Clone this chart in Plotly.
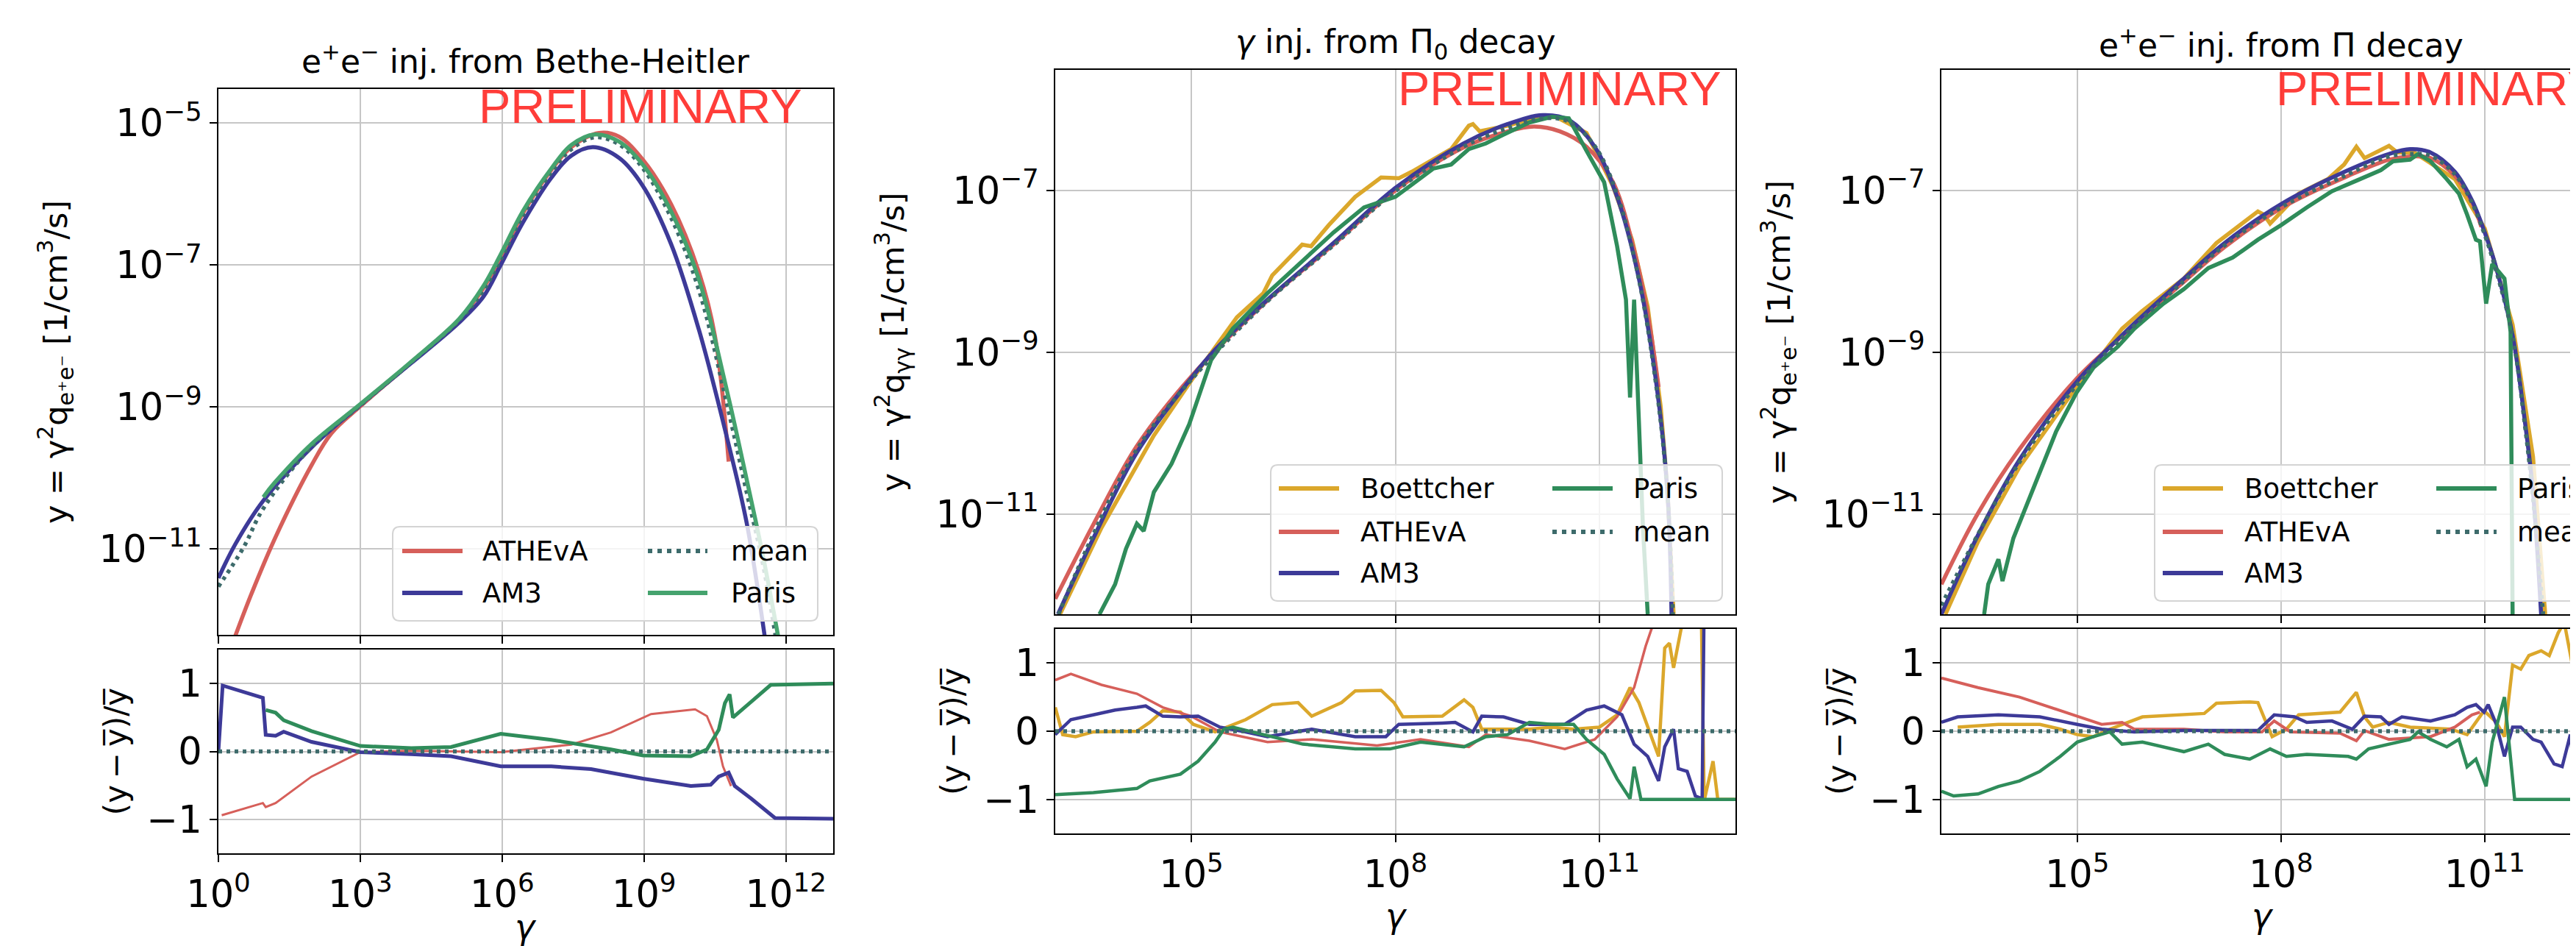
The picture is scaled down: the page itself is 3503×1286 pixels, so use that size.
import plotly.graph_objects as go

W, H = 3503, 1286

# ---------------- colours ----------------
C_BOET = "#dba72b"
C_ATH = "#d65f5a"
C_AM3 = "#3d3a98"
C_PARIS = "#2f8c5a"
C_PARIS1 = "#45a36e"
C_MEAN = "#3d6b6b"

# ---------------- Panel 1 : e+e- from Bethe-Heitler (log10 gamma, log10 y) ----------------
bh_ath_lg = [0.36, 0.70, 1.21, 1.97, 2.39, 3.0, 4.08, 5.09, 5.6, 5.97, 6.44, 7.04, 7.46, 8.05, 8.47, 8.98, 9.57, 10.16, 10.5, 10.79]
bh_ath_ly = [-12.22, -11.63, -10.83, -9.82, -9.37, -8.99, -8.37, -7.77, -7.33, -6.90, -6.27, -5.66, -5.34, -5.14, -5.19, -5.52, -6.14, -7.10, -8.0, -9.77]
bh_am3_lg = [0.0, 0.36, 0.95, 1.97, 3.0, 4.08, 5.09, 5.6, 5.97, 6.44, 7.04, 7.46, 7.92, 8.47, 8.98, 9.57, 10.16, 10.75, 11.17, 11.55]
bh_am3_ly = [-11.41, -10.93, -10.32, -9.57, -8.97, -8.38, -7.81, -7.45, -7.0, -6.40, -5.77, -5.46, -5.34, -5.49, -5.89, -6.70, -7.91, -9.42, -10.63, -12.22]
bh_paris_lg = [0.95, 1.05, 1.21, 1.97, 3.0, 4.08, 5.09, 5.6, 5.97, 6.44, 7.04, 7.46, 7.96, 8.47, 8.98, 9.57, 10.16, 10.75, 11.17, 11.51, 11.85]
bh_paris_ly = [-10.27, -10.18, -10.05, -9.52, -8.96, -8.36, -7.76, -7.30, -6.85, -6.24, -5.64, -5.31, -5.16, -5.26, -5.59, -6.24, -7.20, -8.76, -10.02, -11.08, -12.28]
bh_mean_lg = [0.0, 0.53, 0.95, 1.97, 3.0, 4.08, 5.09, 5.6, 5.97, 6.44, 7.04, 7.46, 7.96, 8.47, 8.98, 9.57, 10.16, 10.75, 11.17, 11.51, 11.78]
bh_mean_ly = [-11.53, -10.98, -10.43, -9.56, -8.98, -8.37, -7.78, -7.36, -6.92, -6.30, -5.69, -5.37, -5.20, -5.30, -5.64, -6.33, -7.35, -8.95, -10.2, -11.2, -12.22]

bh_res_am3_lg = [0.0, 0.09, 0.94, 1.0, 1.21, 1.38, 1.97, 3.0, 4.08, 4.92, 5.97, 7.04, 7.88, 8.98, 9.99, 10.41, 10.58, 10.79, 10.92, 11.26, 11.77, 13.0]
bh_res_am3 = [0.0, 0.97, 0.79, 0.245, 0.23, 0.29, 0.14, -0.01, -0.04, -0.07, -0.22, -0.22, -0.26, -0.40, -0.51, -0.49, -0.37, -0.31, -0.51, -0.69, -0.98, -0.99]
bh_res_paris_lg = [1.0, 1.21, 1.38, 1.97, 3.0, 4.08, 4.92, 5.97, 7.04, 8.3, 8.98, 9.99, 10.33, 10.58, 10.71, 10.81, 10.88, 11.68, 13.0]
bh_res_paris = [0.61, 0.57, 0.46, 0.30, 0.08, 0.05, 0.065, 0.26, 0.17, 0.03, -0.06, -0.07, 0.03, 0.32, 0.71, 0.84, 0.50, 0.98, 1.0]
bh_res_ath_lg = [0.07, 0.94, 1.0, 1.21, 1.97, 3.0, 4.08, 5.97, 7.46, 8.3, 9.15, 10.08, 10.33, 10.54, 10.67, 10.84]
bh_res_ath = [-0.94, -0.76, -0.82, -0.76, -0.37, -0.01, 0.01, -0.01, 0.10, 0.28, 0.55, 0.62, 0.52, 0.17, -0.22, -0.51]
bh_res_mean_lg = [0.0, 13.0]
bh_res_mean = [0.0, 0.0]

# ---------------- Panel 2 : gamma from Pi0 decay ----------------
p0_boet_lg = [3.07, 3.68, 4.45, 5.0, 5.67, 6.06, 6.19, 6.63, 6.76, 7.02, 7.41, 7.79, 8.05, 8.24, 8.82, 9.08, 9.14, 9.24, 9.65, 10.04, 10.36, 10.81, 11.2, 11.48, 11.71, 11.9, 12.0, 12.09]
p0_boet_ly = [-12.24, -11.17, -10.03, -9.35, -8.57, -8.27, -8.05, -7.67, -7.69, -7.43, -7.08, -6.84, -6.85, -6.77, -6.49, -6.20, -6.18, -6.27, -6.20, -6.11, -6.09, -6.29, -6.95, -7.61, -8.44, -9.67, -10.7, -12.24]
p0_ath_lg = [3.0, 3.56, 4.2, 5.0, 6.12, 7.09, 8.0, 9.0, 9.65, 10.04, 10.42, 10.81, 11.2, 11.51, 11.71, 11.87]
p0_ath_ly = [-12.05, -11.13, -10.16, -9.30, -8.36, -7.67, -7.0, -6.47, -6.27, -6.21, -6.27, -6.46, -6.90, -7.74, -8.53, -9.43]
p0_am3_lg = [3.04, 3.56, 4.2, 5.0, 5.35, 6.12, 7.09, 8.0, 9.0, 9.65, 10.17, 10.55, 10.93, 11.26, 11.58, 11.84, 12.0, 12.06]
p0_am3_ly = [-12.24, -11.30, -10.24, -9.32, -8.97, -8.35, -7.65, -6.97, -6.42, -6.18, -6.07, -6.13, -6.46, -7.08, -8.09, -9.41, -10.73, -12.24]
p0_paris_lg = [3.65, 3.88, 4.04, 4.2, 4.3, 4.45, 4.71, 4.97, 5.29, 5.61, 6.12, 6.64, 7.09, 7.54, 8.0, 8.56, 8.82, 9.08, 9.33, 9.59, 9.97, 10.3, 10.55, 10.81, 11.07, 11.26, 11.39, 11.45, 11.51, 11.58, 11.64, 11.71]
p0_paris_ly = [-12.24, -11.87, -11.43, -11.12, -11.21, -10.73, -10.38, -9.89, -9.10, -8.71, -8.27, -7.87, -7.52, -7.21, -7.08, -6.73, -6.68, -6.49, -6.42, -6.31, -6.16, -6.09, -6.11, -6.51, -6.90, -7.69, -8.35, -9.56, -8.35, -9.85, -11.17, -12.24]
p0_mean_lg = [3.05, 3.56, 4.2, 5.0, 6.12, 7.09, 8.0, 9.0, 9.65, 10.17, 10.55, 10.93, 11.26, 11.58, 11.84, 12.0, 12.08]
p0_mean_ly = [-12.24, -11.25, -10.2, -9.34, -8.37, -7.68, -7.01, -6.46, -6.23, -6.11, -6.15, -6.45, -7.05, -8.1, -9.45, -10.75, -12.24]

p0_res_ath_lg = [3.0, 3.23, 3.68, 4.2, 4.58, 5.0, 5.42, 6.12, 6.77, 7.73, 8.37, 9.08, 9.33, 9.97, 10.49, 10.93, 11.26, 11.51, 11.68, 11.8, 11.87]
p0_res_ath = [0.75, 0.84, 0.68, 0.55, 0.35, 0.22, -0.01, -0.16, -0.12, -0.21, -0.12, -0.23, -0.05, -0.14, -0.26, -0.12, 0.21, 0.64, 1.25, 1.6, 1.9]
p0_res_boet_lg = [3.0, 3.11, 3.3, 3.56, 4.2, 4.39, 4.58, 4.84, 5.03, 5.35, 5.8, 6.19, 6.57, 6.77, 7.21, 7.41, 7.79, 7.98, 8.11, 8.69, 9.01, 9.14, 9.27, 9.97, 10.3, 10.62, 11.0, 11.26, 11.45, 11.58, 11.87, 11.96, 12.03, 12.09, 12.22, 12.5, 12.54, 12.67, 12.74, 13.0]
p0_res_boet = [0.35, -0.05, -0.08, -0.01, 0.0, 0.13, 0.30, 0.28, 0.1, -0.01, 0.17, 0.39, 0.42, 0.22, 0.42, 0.59, 0.60, 0.42, 0.21, 0.22, 0.46, 0.35, 0.03, 0.03, 0.06, 0.03, 0.06, 0.24, 0.64, 0.42, -0.37, 1.22, 1.29, 0.93, 1.6, 1.6, -1.02, -0.44, -1.0, -1.0]
p0_res_am3_lg = [3.0, 3.23, 3.56, 3.88, 4.2, 4.33, 4.58, 4.84, 5.1, 5.42, 5.8, 6.12, 6.77, 7.41, 7.86, 8.05, 8.69, 8.88, 9.14, 9.27, 9.59, 9.97, 10.49, 10.81, 11.07, 11.33, 11.51, 11.71, 11.87, 11.96, 12.09, 12.16, 12.29, 12.41, 12.51, 12.54, 12.7]
p0_res_am3 = [-0.05, 0.17, 0.24, 0.31, 0.35, 0.37, 0.22, 0.21, 0.22, 0.06, -0.01, -0.08, 0.03, -0.08, -0.08, 0.1, 0.12, 0.13, -0.01, 0.22, 0.21, 0.1, 0.1, 0.31, 0.37, 0.24, -0.19, -0.37, -0.73, -0.23, 0.03, -0.55, -0.59, -0.95, -0.99, 2.0, 2.0]
p0_res_paris_lg = [3.0, 3.56, 4.2, 4.39, 4.84, 5.1, 5.35, 5.48, 5.61, 6.05, 6.64, 7.41, 7.92, 8.37, 8.69, 9.01, 9.33, 9.65, 9.97, 10.3, 10.62, 10.81, 11.07, 11.26, 11.45, 11.51, 11.61, 13.0]
p0_res_paris = [-0.93, -0.9, -0.84, -0.73, -0.63, -0.44, -0.16, 0.03, 0.06, -0.05, -0.19, -0.26, -0.26, -0.16, -0.19, -0.23, -0.08, -0.05, 0.13, 0.1, 0.1, -0.12, -0.34, -0.70, -0.99, -0.52, -1.0, -1.0]
p0_res_mean_lg = [3.0, 13.0]
p0_res_mean = [0.0, 0.0]

# ---------------- Panel 3 : e+e- from Pi decay ----------------
pc_boet_lg = [3.06, 3.54, 4.15, 4.93, 5.66, 5.96, 6.57, 7.05, 7.66, 7.75, 7.84, 8.26, 8.69, 8.93, 9.11, 9.23, 9.35, 9.59, 9.71, 9.96, 10.56, 11.0, 11.41, 11.71, 11.89]
pc_boet_ly = [-12.24, -11.34, -10.42, -9.50, -8.71, -8.49, -8.09, -7.65, -7.26, -7.30, -7.41, -7.04, -6.86, -6.68, -6.46, -6.60, -6.55, -6.45, -6.53, -6.53, -6.86, -7.47, -8.66, -10.29, -12.24]
pc_ath_lg = [3.0, 3.54, 4.15, 5.0, 5.66, 6.57, 7.17, 8.0, 8.99, 9.59, 9.9, 10.2, 10.56, 10.81, 10.95]
pc_ath_ly = [-11.87, -10.99, -10.2, -9.32, -8.8, -8.13, -7.70, -7.22, -6.82, -6.62, -6.58, -6.60, -6.82, -7.14, -7.45]
pc_am3_lg = [3.0, 3.54, 4.15, 5.0, 5.66, 6.57, 7.17, 8.0, 8.99, 9.59, 9.9, 10.2, 10.56, 10.81, 11.0, 11.17, 11.41, 11.59, 11.71, 11.83]
pc_am3_ly = [-12.24, -11.26, -10.33, -9.36, -8.79, -8.09, -7.65, -7.17, -6.75, -6.55, -6.49, -6.53, -6.77, -7.12, -7.52, -7.96, -8.79, -9.85, -10.73, -12.24]
pc_paris_lg = [3.63, 3.69, 3.84, 3.9, 4.06, 4.27, 4.45, 4.69, 4.99, 5.24, 5.6, 5.84, 6.27, 6.57, 6.93, 7.29, 7.66, 8.0, 8.38, 8.75, 9.11, 9.47, 9.65, 9.9, 10.02, 10.2, 10.44, 10.62, 10.74, 10.87, 10.93, 11.02, 11.11, 11.29, 11.38, 11.41]
pc_paris_ly = [-12.24, -11.87, -11.56, -11.83, -11.30, -10.86, -10.46, -9.98, -9.50, -9.19, -8.93, -8.71, -8.40, -8.22, -7.96, -7.83, -7.61, -7.43, -7.21, -7.01, -6.88, -6.75, -6.64, -6.62, -6.55, -6.64, -6.86, -7.04, -7.30, -7.61, -7.63, -8.40, -7.91, -8.09, -8.75, -12.24]
pc_mean_lg = [3.0, 3.54, 4.15, 5.0, 5.66, 6.57, 7.17, 8.0, 8.99, 9.59, 9.96, 10.2, 10.56, 10.81, 11.0, 11.17, 11.41, 11.59, 11.71, 11.86]
pc_mean_ly = [-12.13, -11.25, -10.36, -9.40, -8.82, -8.12, -7.68, -7.21, -6.80, -6.58, -6.55, -6.57, -6.80, -7.15, -7.55, -8.0, -8.8, -9.9, -10.8, -12.24]

pc_res_ath_lg = [3.0, 3.54, 4.15, 4.75, 5.0, 5.36, 5.66, 5.84, 6.57, 7.17, 7.72, 7.9, 8.14, 8.87, 9.11, 9.23, 9.59, 10.2, 10.56, 10.81, 10.93]
pc_res_ath = [0.78, 0.64, 0.50, 0.31, 0.22, 0.10, 0.13, 0.03, 0.03, -0.01, -0.01, 0.15, -0.01, -0.03, -0.14, 0.01, -0.12, -0.08, 0.06, 0.24, 0.28]
pc_res_boet_lg = [3.24, 3.84, 4.45, 4.75, 5.0, 5.24, 5.48, 5.66, 5.96, 6.87, 7.05, 7.54, 7.66, 7.78, 7.87, 8.08, 8.26, 8.87, 9.11, 9.23, 9.35, 9.59, 9.9, 10.5, 10.74, 10.99, 11.17, 11.29, 11.41, 11.53, 11.65, 11.83, 11.95, 12.08, 12.17, 12.29, 12.38, 12.43]
pc_res_boet = [0.06, 0.10, 0.10, 0.03, -0.05, -0.08, 0.03, 0.10, 0.21, 0.26, 0.41, 0.43, 0.42, 0.13, -0.08, 0.03, 0.24, 0.28, 0.57, 0.21, 0.06, 0.13, 0.06, 0.03, -0.05, 0.30, 0.13, -0.08, 0.97, 0.91, 1.11, 1.18, 1.11, 1.44, 1.6, 0.97, 1.6, 1.6]
pc_res_am3_lg = [3.0, 3.24, 3.84, 4.45, 5.0, 5.36, 5.84, 6.57, 7.66, 7.9, 8.2, 8.38, 8.75, 9.05, 9.23, 9.47, 9.59, 9.78, 10.2, 10.56, 10.74, 10.87, 10.99, 11.05, 11.17, 11.29, 11.41, 11.53, 11.71, 11.83, 12.02, 12.14, 12.26, 12.35, 12.40, 12.43]
pc_res_am3 = [0.13, 0.21, 0.24, 0.21, 0.10, 0.03, -0.01, 0.01, 0.01, 0.24, 0.21, 0.13, 0.15, 0.03, 0.22, 0.21, 0.10, 0.21, 0.15, 0.24, 0.35, 0.39, 0.28, 0.39, 0.10, -0.37, 0.06, 0.06, -0.12, -0.16, -0.48, -0.52, -0.05, -0.92, 1.6, 1.6]
pc_res_paris_lg = [3.0, 3.18, 3.54, 3.84, 4.15, 4.45, 4.75, 5.0, 5.24, 5.48, 5.66, 5.96, 6.57, 6.93, 7.17, 7.54, 7.84, 8.08, 8.38, 8.99, 9.11, 9.29, 9.59, 9.9, 10.02, 10.2, 10.44, 10.62, 10.74, 10.87, 11.02, 11.11, 11.29, 11.44, 12.43]
pc_res_paris = [-0.88, -0.95, -0.92, -0.81, -0.73, -0.59, -0.37, -0.16, -0.08, -0.01, -0.19, -0.16, -0.30, -0.19, -0.34, -0.41, -0.26, -0.37, -0.34, -0.37, -0.41, -0.26, -0.19, -0.12, -0.01, -0.12, -0.23, -0.12, -0.52, -0.41, -0.81, -0.16, 0.50, -1.0, -1.0]
pc_res_mean_lg = [3.0, 13.0]
pc_res_mean = [0.0, 0.0]

# ---------------- tick labels ----------------
x_ticks_p1 = [0, 3, 6, 9, 12]
x_ticks_p23 = [5, 8, 11]
y_ticks_p1 = [-11, -9, -7, -5]
y_ticks_p23 = [-11, -9, -7]
res_ticks = [-1, 0, 1]
res_ticktext = ["\u22121", "0", "1"]

FONT = "DejaVu Sans"
fig = go.Figure()


def add(xa, ya, lg, vals, color, width, dash=None, logy=True, shape="linear"):
    fig.add_trace(go.Scatter(
        x=[10 ** v for v in lg],
        y=[10 ** v for v in vals] if logy else vals,
        xaxis=xa, yaxis=ya, mode="lines",
        line=dict(color=color, width=width, dash=dash, shape=shape),
        showlegend=False, hoverinfo="skip"))


DOT = "5px,6px"
LW = 5.5
RW = 4.5
# panel 1
add("x", "y", bh_ath_lg, bh_ath_ly, C_ATH, LW, shape="spline")
add("x", "y", bh_am3_lg, bh_am3_ly, C_AM3, LW, shape="spline")
add("x", "y", bh_mean_lg, bh_mean_ly, C_MEAN, 5.5, dash=DOT, shape="spline")
add("x", "y", bh_paris_lg, bh_paris_ly, C_PARIS1, LW, shape="spline")
add("x2", "y2", bh_res_ath_lg, bh_res_ath, C_ATH, 3, logy=False)
add("x2", "y2", bh_res_am3_lg, bh_res_am3, C_AM3, 5, logy=False)
add("x2", "y2", bh_res_mean_lg, bh_res_mean, C_MEAN, 5.5, dash=DOT, logy=False)
add("x2", "y2", bh_res_paris_lg, bh_res_paris, C_PARIS, 5, logy=False)

# panel 2
add("x3", "y3", p0_boet_lg, p0_boet_ly, C_BOET, LW)
add("x3", "y3", p0_ath_lg, p0_ath_ly, C_ATH, LW, shape="spline")
add("x3", "y3", p0_am3_lg, p0_am3_ly, C_AM3, LW, shape="spline")
add("x3", "y3", p0_paris_lg, p0_paris_ly, C_PARIS, LW)
add("x3", "y3", p0_mean_lg, p0_mean_ly, C_MEAN, 5.5, dash=DOT, shape="spline")
add("x4", "y4", p0_res_boet_lg, p0_res_boet, C_BOET, RW, logy=False)
add("x4", "y4", p0_res_ath_lg, p0_res_ath, C_ATH, 3.5, logy=False)
add("x4", "y4", p0_res_am3_lg, p0_res_am3, C_AM3, RW, logy=False)
add("x4", "y4", p0_res_paris_lg, p0_res_paris, C_PARIS, RW, logy=False)
add("x4", "y4", p0_res_mean_lg, p0_res_mean, C_MEAN, 5.5, dash=DOT, logy=False)

# panel 3
add("x5", "y5", pc_boet_lg, pc_boet_ly, C_BOET, LW)
add("x5", "y5", pc_ath_lg, pc_ath_ly, C_ATH, LW, shape="spline")
add("x5", "y5", pc_am3_lg, pc_am3_ly, C_AM3, LW, shape="spline")
add("x5", "y5", pc_paris_lg, pc_paris_ly, C_PARIS, LW)
add("x5", "y5", pc_mean_lg, pc_mean_ly, C_MEAN, 5.5, dash=DOT, shape="spline")
add("x6", "y6", pc_res_boet_lg, pc_res_boet, C_BOET, RW, logy=False)
add("x6", "y6", pc_res_ath_lg, pc_res_ath, C_ATH, 4, logy=False)
add("x6", "y6", pc_res_am3_lg, pc_res_am3, C_AM3, RW, logy=False)
add("x6", "y6", pc_res_paris_lg, pc_res_paris, C_PARIS, RW, logy=False)
add("x6", "y6", pc_res_mean_lg, pc_res_mean, C_MEAN, 5.5, dash=DOT, logy=False)

# ---------------- axes ----------------
def px_x(p):
    return p / W


def px_y(p):
    return 1 - p / H


P1X = [px_x(289), px_x(1125)]
P2X = [px_x(1427), px_x(2352)]
P3X = [px_x(2632), 1.0]
P1M = [px_y(855), px_y(113)]
P1R = [px_y(1152), px_y(875)]
P23M = [px_y(827), px_y(87)]
P23R = [px_y(1125), px_y(847)]

GRID = "#c6c6c6"
TICK_SIZE = 51


def base(mirror=True):
    return dict(showgrid=True, gridcolor=GRID, gridwidth=2, showline=True, linecolor="black",
                linewidth=2, mirror=mirror, ticks="outside", ticklen=10, tickwidth=2,
                tickcolor="black", zeroline=False, automargin=False,
                tickfont=dict(family=FONT, size=TICK_SIZE, color="black"))


def pow_text(vals):
    return ["10<sup>%s</sup>" % (str(v).replace("-", "\u2212")) for v in vals]


def xax(dom, rng, anchor, ticks, labels, mirror=True, title=True):
    d = base(mirror)
    d.update(domain=dom, type="log", range=rng, anchor=anchor,
             tickvals=[10 ** t for t in ticks], ticktext=pow_text(ticks), showticklabels=labels)
    if labels and title:
        d.update(title=dict(text="<i>γ</i>", font=dict(family=FONT, size=46, color="black"), standoff=10))
    return d


YT_MAIN1 = "y = γ<sup>2</sup>q<sub>e\u207ae\u207b</sub> [1/cm<sup>3</sup>/s]"
YT_MAIN2 = "y = γ<sup>2</sup>q<sub>γγ</sub> [1/cm<sup>3</sup>/s]"
YT_RES = "(y\u2009\u2212\u2009y\u0305)/y\u0305"


def ymain(dom, rng, anchor, ticks, title, mirror=True):
    d = base(mirror)
    d.update(domain=dom, type="log", range=rng, anchor=anchor,
             tickvals=[10 ** t for t in ticks], ticktext=pow_text(ticks),
             title=dict(text=title, font=dict(family=FONT, size=43, color="black"), standoff=30))
    return d


def yres(dom, anchor, mirror=True):
    d = base(mirror)
    d.update(domain=dom, range=[-1.5, 1.5], anchor=anchor, tickvals=res_ticks, ticktext=res_ticktext,
             title=dict(text=YT_RES, font=dict(family=FONT, size=42, color="black"), standoff=14))
    return d


fig.update_layout(
    xaxis=xax(P1X, [0, 13], "y", x_ticks_p1, False),
    yaxis=ymain(P1M, [-12.21, -4.52], "x", y_ticks_p1, YT_MAIN1),
    xaxis2=xax(P1X, [0, 13], "y2", x_ticks_p1, True, title=False),
    yaxis2=yres(P1R, "x2"),
    xaxis3=xax(P2X, [3, 13], "y3", x_ticks_p23, False),
    yaxis3=ymain(P23M, [-12.24, -5.51], "x3", y_ticks_p23, YT_MAIN2),
    xaxis4=xax(P2X, [3, 13], "y4", x_ticks_p23, True),
    yaxis4=yres(P23R, "x4"),
    xaxis5=xax(P3X, [3, 12.43], "y5", x_ticks_p23, False),
    yaxis5=ymain(P23M, [-12.24, -5.51], "x5", y_ticks_p23, YT_MAIN1, mirror=False),
    xaxis6=xax(P3X, [3, 12.43], "y6", x_ticks_p23, True),
    yaxis6=yres(P23R, "x6", mirror=False),
)

shapes = []
annotations = []

# x-axis label of the first panel (placed explicitly so it stays inside the canvas)
annotations.append(dict(text="<i>γ</i>", x=px_x(707), y=px_y(1252), xref="paper", yref="paper",
                        xanchor="center", yanchor="middle", showarrow=False,
                        font=dict(family=FONT, size=46, color="black")))

# ---------------- titles ----------------
TITLE_FONT = dict(family=FONT, size=44, color="black")
for txt, cx, cy in [("e<sup>+</sup>e<sup>\u2212</sup> inj. from Bethe-Heitler", 707, 72),
                    ("<i>γ</i> inj. from Π<sub>0</sub> decay", 1890, 52),
                    ("e<sup>+</sup>e<sup>\u2212</sup> inj. from Π decay", 3094, 50)]:
    annotations.append(dict(text=txt, x=px_x(cx), y=px_y(cy), xref="paper", yref="paper",
                            xanchor="center", yanchor="middle", showarrow=False, font=TITLE_FONT))

# ---------------- PRELIMINARY ----------------
for lx, cy in [(641, 137), (1891, 113), (3085, 113)]:
    annotations.append(dict(text="PRELIMINARY", x=px_x(lx), y=px_y(cy), xref="paper", yref="paper",
                            xanchor="left", yanchor="middle", showarrow=False,
                            font=dict(family="Liberation Sans", size=65, color="rgba(255,40,35,0.9)")))

# ---------------- legends (drawn as boxes + sample lines + text) ----------------
LEG_FONT = dict(family=FONT, size=37, color="black")


def rounded_box(x0, y0, x1, y1, r=10):
    X = lambda p: px_x(p)
    Y = lambda p: px_y(p)
    path = (f"M {X(x0 + r)},{Y(y0)} L {X(x1 - r)},{Y(y0)} Q {X(x1)},{Y(y0)} {X(x1)},{Y(y0 + r)} "
            f"L {X(x1)},{Y(y1 - r)} Q {X(x1)},{Y(y1)} {X(x1 - r)},{Y(y1)} "
            f"L {X(x0 + r)},{Y(y1)} Q {X(x0)},{Y(y1)} {X(x0)},{Y(y1 - r)} "
            f"L {X(x0)},{Y(y0 + r)} Q {X(x0)},{Y(y0)} {X(x0 + r)},{Y(y0)} Z")
    shapes.append(dict(type="path", path=path, xref="paper", yref="paper", layer="above",
                       fillcolor="rgba(255,255,255,0.8)", line=dict(color="#d4d4d4", width=2)))


def legend(box, entries):
    rounded_box(*box)
    for name, color, dash, lx0, lx1, ly, tx in entries:
        shapes.append(dict(type="line", x0=px_x(lx0), x1=px_x(lx1), y0=px_y(ly), y1=px_y(ly),
                           xref="paper", yref="paper", layer="above",
                           line=dict(color=color, width=6, dash=dash)))
        annotations.append(dict(text=name, x=px_x(tx), y=px_y(ly), xref="paper", yref="paper",
                                xanchor="left", yanchor="middle", showarrow=False, font=LEG_FONT))


legend((526, 708, 1104, 836), [
    ("ATHEvA", C_ATH, None, 539, 621, 741, 646),
    ("AM3", C_AM3, None, 539, 621, 798, 646),
    ("mean", C_MEAN, "6px,7px", 873, 954, 741, 984),
    ("Paris", C_PARIS1, None, 873, 954, 798, 984),
])
for bx in (1720, 2922):
    legend((bx, 624, bx + 614, 809), [
        ("Boettcher", C_BOET, None, bx + 11, bx + 93, 656, bx + 120),
        ("ATHEvA", C_ATH, None, bx + 11, bx + 93, 715, bx + 120),
        ("AM3", C_AM3, None, bx + 11, bx + 93, 771, bx + 120),
        ("Paris", C_PARIS, None, bx + 383, bx + 465, 656, bx + 491),
        ("mean", C_MEAN, "6px,7px", bx + 383, bx + 465, 715, bx + 491),
    ])

fig.update_layout(
    width=W, height=H, margin=dict(l=0, r=0, t=0, b=0, autoexpand=False),
    paper_bgcolor="white", plot_bgcolor="white",
    showlegend=False, shapes=shapes, annotations=annotations,
    font=dict(family=FONT, color="black"),
)

fig.write_html("out.html")
